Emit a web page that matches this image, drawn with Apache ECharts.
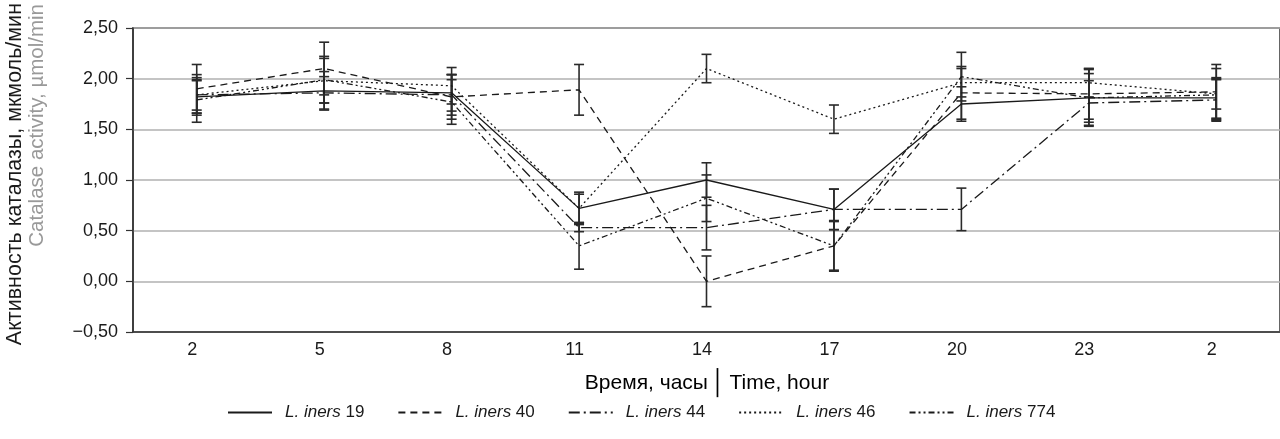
<!DOCTYPE html>
<html>
<head>
<meta charset="utf-8">
<script src="https://cdn.jsdelivr.net/npm/echarts@6/dist/echarts.min.js"></script>
<style>
  html, body { margin: 0; padding: 0; background: #fff; }
  #chart { width: 1280px; height: 439px; }
</style>
</head>
<body>
<div id="chart"></div>
<script>
// time points, hours
const hours = ['2', '5', '8', '11', '14', '17', '20', '23', '2'];
const strainNames = ['L. iners 19', 'L. iners 40', 'L. iners 44', 'L. iners 46', 'L. iners 774'];

// mean catalase activity, umol/min
const iners19 = [1.82, 1.88, 1.86, 0.72, 1.00, 0.71, 1.75, 1.81, 1.81];
const iners40 = [1.90, 2.10, 1.82, 1.89, 0.00, 0.35, 1.86, 1.85, 1.87];
const iners44 = [1.84, 1.86, 1.84, 0.53, 0.53, 0.71, 0.71, 1.76, 1.79];
const iners46 = [1.84, 1.98, 1.93, 0.72, 2.10, 1.60, 1.96, 1.96, 1.85];
const iners774 = [1.79, 1.99, 1.77, 0.35, 0.82, 0.35, 2.02, 1.81, 1.84];

// standard deviation
const sd19 = [0.16, 0.19, 0.18, 0.16, 0.17, 0.20, 0.17, 0.24, 0.20];
const sd40 = [0.24, 0.26, 0.22, 0.25, 0.25, 0.25, 0.26, 0.25, 0.27];
const sd44 = [0.20, 0.16, 0.20, 0.04, 0.22, 0.20, 0.21, 0.22, 0.20];
const sd46 = [0.15, 0.22, 0.18, 0.14, 0.14, 0.14, 0.14, 0.14, 0.15];
const sd774 = [0.22, 0.23, 0.22, 0.23, 0.23, 0.24, 0.24, 0.28, 0.26];

const means = [iners19, iners40, iners44, iners46, iners774];
const sds = [sd19, sd40, sd44, sd46, sd774];
const dashes = ['solid', [7, 5], [11, 4, 2, 4], [2, 3], [6, 3, 2, 3, 2, 3]];

const dom = document.getElementById('chart');
const myChart = echarts.init(dom, null, { renderer: 'canvas' });

const font = 'Liberation Sans, Arial, Helvetica, sans-serif';

function errorSeries(mean, sd) {
    return {
        type: 'custom',
        z: 3,
        silent: true,
        data: mean.map((m, i) => [i, m - sd[i], m + sd[i]]),
        renderItem: function (params, api) {
            const lo = api.coord([api.value(0), api.value(1)]);
            const hi = api.coord([api.value(0), api.value(2)]);
            const w = 5;
            const st = { stroke: '#2a2a2a', lineWidth: 1.6 };
            return {
                type: 'group',
                children: [
                    { type: 'line', shape: { x1: lo[0], y1: lo[1], x2: hi[0], y2: hi[1] }, style: st },
                    { type: 'line', shape: { x1: lo[0] - w, y1: lo[1], x2: lo[0] + w, y2: lo[1] }, style: st },
                    { type: 'line', shape: { x1: hi[0] - w, y1: hi[1], x2: hi[0] + w, y2: hi[1] }, style: st }
                ]
            };
        }
    };
}

const series = [];
strainNames.forEach((name, k) => {
    series.push({
        name: name,
        type: 'line',
        data: means[k],
        symbol: 'none',
        z: 4,
        lineStyle: { color: '#1a1a1a', width: 1.3, type: dashes[k] },
        itemStyle: { color: '#1a1a1a' }
    });
});
strainNames.forEach((name, k) => {
    series.push(errorSeries(means[k], sds[k]));
});

const option = {
    animation: false,
    textStyle: { fontFamily: font },
    grid: {
        left: 133, right: -14, top: 28, bottom: 107,
        show: true, borderColor: '#333', borderWidth: 1.5
    },
    legend: {
        data: strainNames,
        left: 222,
        top: 399,
        itemWidth: 44,
        itemHeight: 16,
        itemGap: 33,
        itemStyle: { opacity: 0 },
        formatter: function (name) {
            return '{i|L. iners} ' + name.replace('L. iners ', '');
        },
        textStyle: {
            fontFamily: font,
            fontSize: 17,
            color: '#1a1a1a',
            padding: [0, 0, 0, 8],
            rich: { i: { fontStyle: 'italic', fontSize: 17, fontFamily: font, color: '#1a1a1a' } }
        }
    },
    xAxis: {
        type: 'category',
        data: hours,
        boundaryGap: true,
        axisLine: { onZero: false, lineStyle: { color: '#333', width: 1.5 } },
        axisTick: { show: false },
        splitLine: { show: false },
        axisLabel: { color: '#1a1a1a', fontSize: 18, margin: 9, padding: [0, 9, 0, 0], fontFamily: font }
    },
    yAxis: {
        type: 'value',
        min: -0.5,
        max: 2.5,
        interval: 0.5,
        axisLine: { show: true, lineStyle: { color: '#333', width: 1.5 } },
        axisTick: { show: true, inside: false, length: 7, lineStyle: { color: '#333', width: 1.2 } },
        splitLine: { lineStyle: { color: '#b0b0b0', width: 1.5 } },
        axisLabel: {
            color: '#1a1a1a', fontSize: 18, margin: 15, fontFamily: font,
            formatter: function (v) {
                const s = Math.abs(v).toFixed(2).replace('.', ',');
                return v < 0 ? '\u2212' + s : s;
            }
        }
    },
    graphic: [
        {
            type: 'text',
            x: 15, y: 3,
            rotation: Math.PI / 2,
            style: {
                text: 'Активность каталазы, мкмоль/мин',
                fontFamily: font, fontSize: 21.5, fill: '#1a1a1a',
                align: 'right', verticalAlign: 'middle'
            }
        },
        {
            type: 'text',
            x: 37, y: 4,
            rotation: Math.PI / 2,
            style: {
                text: 'Catalase activity, µmol/min',
                fontFamily: font, fontSize: 20.5, fill: '#999',
                align: 'right', verticalAlign: 'middle'
            }
        },
        {
            type: 'text',
            x: 707, y: 383,
            style: {
                text: '{a|Время, часы} {s|\u2502} {b|Time, hour}',
                align: 'center', verticalAlign: 'middle',
                rich: {
                    a: { fontFamily: font, fontSize: 21, color: '#1a1a1a' },
                    s: { fontFamily: font, fontSize: 24, color: '#999' },
                    b: { fontFamily: font, fontSize: 21, color: '#999' }
                }
            }
        }
    ],
    series: series
};

myChart.setOption(option);
</script>
</body>
</html>
